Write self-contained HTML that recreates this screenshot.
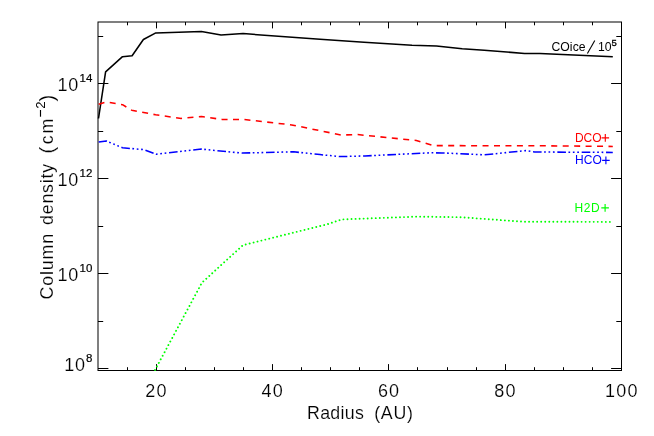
<!DOCTYPE html>
<html><head><meta charset="utf-8"><title>Column density</title>
<style>
html,body{margin:0;padding:0;background:#fff;}
svg{display:block;will-change:transform;}
text{font-family:"Liberation Sans",sans-serif;stroke:#fff;stroke-width:0.15px;} text.s{stroke:none;}
</style></head>
<body>
<svg width="654" height="436" viewBox="0 0 654 436">
<rect width="654" height="436" fill="#fff"/>
<rect x="98.0" y="22.0" width="523.50" height="348.50" fill="none" stroke="#000" stroke-width="1.0"/>
<path d="M127.50 370.5v-3.3M127.50 22.0v3.3M156.50 370.5v-6.4M156.50 22.0v6.4M185.50 370.5v-3.3M185.50 22.0v3.3M214.50 370.5v-3.3M214.50 22.0v3.3M243.50 370.5v-3.3M243.50 22.0v3.3M272.50 370.5v-6.4M272.50 22.0v6.4M301.50 370.5v-3.3M301.50 22.0v3.3M330.50 370.5v-3.3M330.50 22.0v3.3M359.50 370.5v-3.3M359.50 22.0v3.3M388.50 370.5v-6.4M388.50 22.0v6.4M417.50 370.5v-3.3M417.50 22.0v3.3M447.50 370.5v-3.3M447.50 22.0v3.3M476.50 370.5v-3.3M476.50 22.0v3.3M505.50 370.5v-6.4M505.50 22.0v6.4M534.50 370.5v-3.3M534.50 22.0v3.3M563.50 370.5v-3.3M563.50 22.0v3.3M592.50 370.5v-3.3M592.50 22.0v3.3M98.0 368.50h10.4M621.5 368.50h-10.4M98.0 321.50h5.2M621.5 321.50h-5.2M98.0 273.50h10.4M621.5 273.50h-10.4M98.0 226.50h5.2M621.5 226.50h-5.2M98.0 178.50h10.4M621.5 178.50h-10.4M98.0 131.50h5.2M621.5 131.50h-5.2M98.0 83.50h10.4M621.5 83.50h-10.4M98.0 36.50h5.2M621.5 36.50h-5.2" fill="none" stroke="#000" stroke-width="1.0"/>
<polyline points="98.5,118.5 105.6,71.8 122.5,56.7 132.1,55.7 143.4,39.5 155.8,32.9 201.4,31.6 221.1,35 243.1,33.6 320,39.3 364,42.3 388,43.8 412,45.2 436.5,45.9 462.2,48.8 484.2,50.3 524.6,53.4 540,53.6 612.8,56.7" fill="none" stroke="#000" stroke-width="1.55" stroke-linejoin="round"/>
<polyline points="98.7,104.3 106.4,101.9 122.5,104.7 131.7,110.2 155.6,114.8 181.2,118.4 201.4,116.6 222,119.4 243.1,119.4 291.7,124.9 320,130.7 341.2,135 357.7,134.6 416.4,140.5 433.8,145.6 540,145.8 612.8,146.4" fill="none" stroke="#f00" stroke-width="1.55" stroke-linejoin="round" stroke-dasharray="6 5.45"/>
<polyline points="98.7,141.9 106.4,141 122.5,147.8 143.6,149.6 156.5,154.2 201.4,149.1 215,150.5 242.2,153.1 293.6,151.8 320,154.6 340.3,156.6 365,155.95 430,152.8 442,152.9 484.2,154.8 526.4,150.6 534.7,152.0 612.8,152.4" fill="none" stroke="#00f" stroke-width="1.55" stroke-linejoin="round" stroke-dasharray="8.6 2.5 1.7 2.7 1.7 2.7 1.7 2.74" stroke-dashoffset="0.3"/>
<polyline points="155.0,370.0 201.9,282.7 242.9,245.2 327.2,224.3 341.9,219.4 417,216.6 461,217.2 523.4,221.7 612.6,221.9" fill="none" stroke="#0f0" stroke-width="1.9" stroke-linejoin="round" stroke-dasharray="0.01 4.03" stroke-linecap="round"/>
<text x="156.5" y="396.9" font-size="18" text-anchor="middle" fill="#000" letter-spacing="1.2">20</text>
<text x="272.8" y="396.9" font-size="18" text-anchor="middle" fill="#000" letter-spacing="1.2">40</text>
<text x="389.1" y="396.9" font-size="18" text-anchor="middle" fill="#000" letter-spacing="1.2">60</text>
<text x="505.5" y="396.9" font-size="18" text-anchor="middle" fill="#000" letter-spacing="1.2">80</text>
<text x="621.8" y="396.9" font-size="18" text-anchor="middle" fill="#000" letter-spacing="1.2">100</text>
<text x="92.3" y="362.3" font-size="11.5" text-anchor="end" fill="#000" class="s" style="stroke:#000;stroke-width:0.2px">8</text>
<text x="85.9" y="371.0" font-size="18" text-anchor="end" fill="#000" letter-spacing="0.8">10</text>
<text x="92.3" y="271.8" font-size="11.5" text-anchor="end" fill="#000" class="s" style="stroke:#000;stroke-width:0.2px">10</text>
<text x="79.0" y="280.5" font-size="18" text-anchor="end" fill="#000" letter-spacing="0.8">10</text>
<text x="92.3" y="177.0" font-size="11.5" text-anchor="end" fill="#000" class="s" style="stroke:#000;stroke-width:0.2px">12</text>
<text x="79.0" y="185.7" font-size="18" text-anchor="end" fill="#000" letter-spacing="0.8">10</text>
<text x="92.3" y="82.1" font-size="11.5" text-anchor="end" fill="#000" class="s" style="stroke:#000;stroke-width:0.2px">14</text>
<text x="79.0" y="90.8" font-size="18" text-anchor="end" fill="#000" letter-spacing="0.8">10</text>
<text x="307" y="418.5" font-size="17.8" text-anchor="start" fill="#000" letter-spacing="0.3">Radius</text>
<text x="374.2" y="418.5" font-size="17.8" text-anchor="start" fill="#000" letter-spacing="0.75">(AU)</text>
<g transform="translate(53,299) rotate(-90)">
<text x="-0.6" y="0" font-size="17.8" text-anchor="start" fill="#000" letter-spacing="0.9">Column</text>
<text x="74.0" y="0" font-size="17.8" text-anchor="start" fill="#000" letter-spacing="0.8">density</text>
<text x="145.6" y="0.6" font-size="20" text-anchor="start" fill="#000">(</text>
<text x="154.8" y="0" font-size="17.8" text-anchor="start" fill="#000">c</text>
<text x="165.6" y="0" font-size="17.8" text-anchor="start" fill="#000">m</text>
<path d="M182.3 -12.5H189" stroke="#000" stroke-width="1.15" fill="none"/>
<text x="190.2" y="-8.0" font-size="13.2" text-anchor="start" fill="#000" class="s">2</text>
<text x="197.6" y="0.6" font-size="20" text-anchor="start" fill="#000">)</text>
</g>
<text x="574.9" y="141.7" font-size="12" text-anchor="start" fill="#f00" class="s">DCO</text>
<text x="574.9" y="164.2" font-size="12" text-anchor="start" fill="#00f" class="s" letter-spacing="0.15">HCO</text>
<text x="574.4" y="211.8" font-size="12" text-anchor="start" fill="#0f0" class="s" letter-spacing="0.6">H2D</text>
<path d="M601.5 137.9H609.0999999999999M605.3 134.1V141.70000000000002" stroke="#f00" stroke-width="1.15" fill="none"/>
<path d="M602.1 160.4H609.6999999999999M605.9 156.6V164.20000000000002" stroke="#00f" stroke-width="1.15" fill="none"/>
<path d="M601.3000000000001 207.9H608.9M605.1 204.1V211.70000000000002" stroke="#0f0" stroke-width="1.15" fill="none"/>
<text x="551.4" y="50.7" font-size="12.2" text-anchor="start" fill="#000" class="s" letter-spacing="0.1">COice</text>
<path d="M587.4 53.6L594.8 40.4" stroke="#000" stroke-width="1.1" fill="none"/>
<text x="598.0" y="50.7" font-size="12.2" text-anchor="start" fill="#000" class="s">10</text>
<text x="611.6" y="45.5" font-size="9.5" text-anchor="start" fill="#000" class="s" style="stroke:#000;stroke-width:0.3px">5</text>
</svg>
</body></html>
